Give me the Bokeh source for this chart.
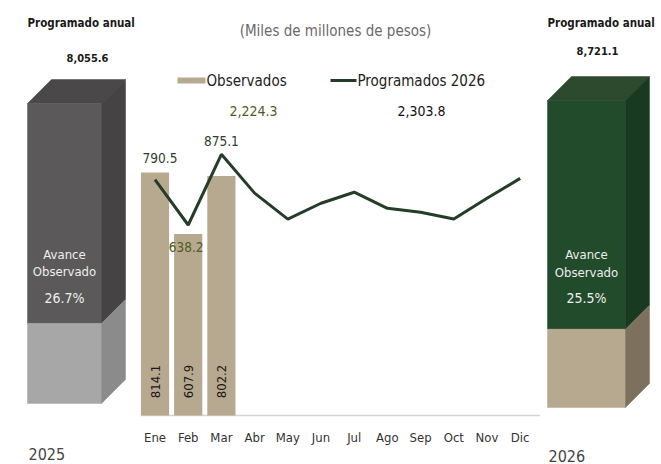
import math
from bokeh.plotting import figure
from bokeh.layouts import row
from bokeh.models import Range1d, Label
from bokeh.core.properties import value
from bokeh.embed import file_html
from bokeh.resources import INLINE

# ---------------- data ----------------
months = ["Ene", "Feb", "Mar", "Abr", "May", "Jun", "Jul", "Ago", "Sep", "Oct", "Nov", "Dic"]
observados = [814.1, 607.9, 802.2]
programados = [790.5, 638.2, 875.1, 745.0, 658.0, 711.0, 748.0, 694.0, 681.0, 658.0, 728.0, 794.3]
total_observado = "2,224.3"
total_programado_q1 = "2,303.8"
anual_2025 = "8,055.6"
avance_2025 = 26.7
anual_2026 = "8,721.1"
avance_2026 = 25.5

FONTNAME = "DejaVu Sans Condensed"
FONT = value(FONTNAME)
BAR_COLOR = "#b7a990"
LINE_COLOR = "#243d26"
H = 464
SPLIT_L = 140     # pixel column where the middle panel starts
SPLIT_R = 540     # pixel column where the right panel starts

# ---------------- middle chart ----------------
BASE = 415.0      # pixel row of the baseline
SCALE = 0.2985    # pixels per unit
STEP = 33.2       # pixels per month
X0 = 154.5        # pixel column of "Ene"
def vy(py):
    return (BASE - py) / SCALE
def vx(px):
    return (px - X0) / STEP

mid = figure(width=SPLIT_R - SPLIT_L, height=H, x_range=Range1d(vx(SPLIT_L), vx(SPLIT_R)),
             y_range=Range1d(vy(H), vy(0)), output_backend="svg", toolbar_location=None,
             min_border=0, x_axis_location=None, y_axis_location=None)
mid.grid.visible = False
mid.outline_line_color = None

idx = list(range(len(months)))
obs_x = list(range(len(observados)))

# baseline
mid.line(x=[vx(SPLIT_L), vx(SPLIT_R)], y=[0, 0], line_color="#d4d4d4", line_width=1.5)
# month labels
mid.text(x=idx, y=[vy(437)] * len(months), text=months, text_align="center", text_baseline="middle",
         text_font=FONT, text_font_size="13px", text_color="#333333")

mid.vbar(x=obs_x, top=observados, width=0.85, bottom=0, color=BAR_COLOR, line_color=None)
mid.line(x=idx, y=programados, line_color=LINE_COLOR, line_width=3)

# rotated labels inside bars
mid.text(x=obs_x, y=[vy(381)] * 3, text=[f"{v:,.1f}" for v in observados], angle=math.pi / 2,
         text_align="center", text_baseline="middle", text_font=FONT,
         text_font_size="13px", text_color="#1a1a1a")

# labels of programados for first quarter
lab_dx = [5, -2, 0]
lab_dy = [-22, 22, -13]
lab_colors = ["#2f3d2f", "#4d5e22", "#2f3d2f"]
for i in range(3):
    mid.text(x=[i], y=[programados[i]], text=[f"{programados[i]:,.1f}"],
             x_offset=lab_dx[i], y_offset=lab_dy[i],
             text_align="center", text_baseline="middle", text_font=FONT,
             text_font_size="13.5px", text_color=lab_colors[i])

# title
mid.text(x=[vx(335)], y=[vy(30)], text=["(Miles de millones de pesos)"], text_align="center",
         text_baseline="middle", text_font=FONT, text_font_size="15px", text_color="#6a6a6a")

# legend
mid.quad(left=[vx(177)], right=[vx(205)], top=[vy(77)], bottom=[vy(83)], color=BAR_COLOR, line_color=None)
mid.text(x=[vx(206)], y=[vy(80)], text=["Observados"], text_align="left", text_baseline="middle",
         text_font=FONT, text_font_size="15px", text_color="#222222")
mid.line(x=[vx(330), vx(356)], y=[vy(80), vy(80)], line_color=LINE_COLOR, line_width=3)
mid.text(x=[vx(357)], y=[vy(80)], text=["Programados  2026"], text_align="left", text_baseline="middle",
         text_font=FONT, text_font_size="15px", text_color="#222222")

# totals
mid.text(x=[vx(253)], y=[vy(110)], text=[total_observado], text_align="center", text_baseline="middle",
         text_font=FONT, text_font_size="14px", text_color="#4d5e22")
mid.text(x=[vx(421)], y=[vy(110)], text=[total_programado_q1], text_align="center", text_baseline="middle",
         text_font=FONT, text_font_size="14px", text_color="#111111")

# ---------------- side boxes ----------------
def side_fig(x0, x1):
    f = figure(width=x1 - x0, height=H, x_range=Range1d(x0, x1), y_range=Range1d(H, 0),
               output_backend="svg", toolbar_location=None, min_border=0,
               x_axis_location=None, y_axis_location=None)
    f.grid.visible = False
    f.outline_line_color = None
    return f

def box(f, fx0, fx1, ftop, fbot, d, pct, c):
    h = fbot - ftop
    split = fbot - pct / 100.0 * h
    xs = [[fx0, fx0 + d, fx1 + d, fx1],
          [fx0, fx1, fx1, fx0],
          [fx1, fx1 + d, fx1 + d, fx1],
          [fx0, fx1, fx1, fx0],
          [fx1, fx1 + d, fx1 + d, fx1]]
    ys = [[ftop, ftop - d, ftop - d, ftop],
          [ftop, ftop, split, split],
          [ftop, ftop - d, split - d, split],
          [split, split, fbot, fbot],
          [split, split - d, fbot - d, fbot]]
    f.patches(xs=xs, ys=ys, fill_color=c, line_color=c, line_width=0.5)

def add_label(f, x, y, text, size, color, align="center", bold=False):
    f.add_layout(Label(x=x, y=y, text=text, text_align=align, text_baseline="middle",
                       text_font=FONTNAME, text_font_size=size, text_color=color,
                       text_font_style="bold" if bold else "normal"))

left = side_fig(0, SPLIT_L)
box(left, 27, 101, 103, 403, 24, avance_2025,
    ["#4a4848", "#5b5959", "#454343", "#a7a7a7", "#8b8b8b"])
add_label(left, 27, 22, "Programado anual", "11.5px", "#1a1a1a", align="left", bold=True)
add_label(left, 87, 57, anual_2025, "11px", "#1a1a1a", bold=True)
add_label(left, 64, 254, "Avance", "13px", "#eeeeee")
add_label(left, 64, 271, "Observado", "13px", "#eeeeee")
add_label(left, 64, 297, f"{avance_2025:.1f}%", "14px", "#eeeeee")
add_label(left, 28, 453, "2025", "16px", "#444444", align="left")

right = side_fig(SPLIT_R, 661)
box(right, 547, 625, 100, 407, 24, avance_2026,
    ["#2d4a2f", "#214b2a", "#183a20", "#b7a990", "#7d715e"])
add_label(right, 547, 22, "Programado anual", "11.5px", "#1a1a1a", align="left", bold=True)
add_label(right, 597, 50, anual_2026, "11px", "#1a1a1a", bold=True)
add_label(right, 586, 254, "Avance", "13px", "#eeeeee")
add_label(right, 586, 272, "Observado", "13px", "#eeeeee")
add_label(right, 586, 297, f"{avance_2026:.1f}%", "14px", "#eeeeee")
add_label(right, 548, 455, "2026", "16px", "#444444", align="left")

layout = row(left, mid, right, spacing=0)
open("out.html", "w").write(file_html(layout, INLINE))
